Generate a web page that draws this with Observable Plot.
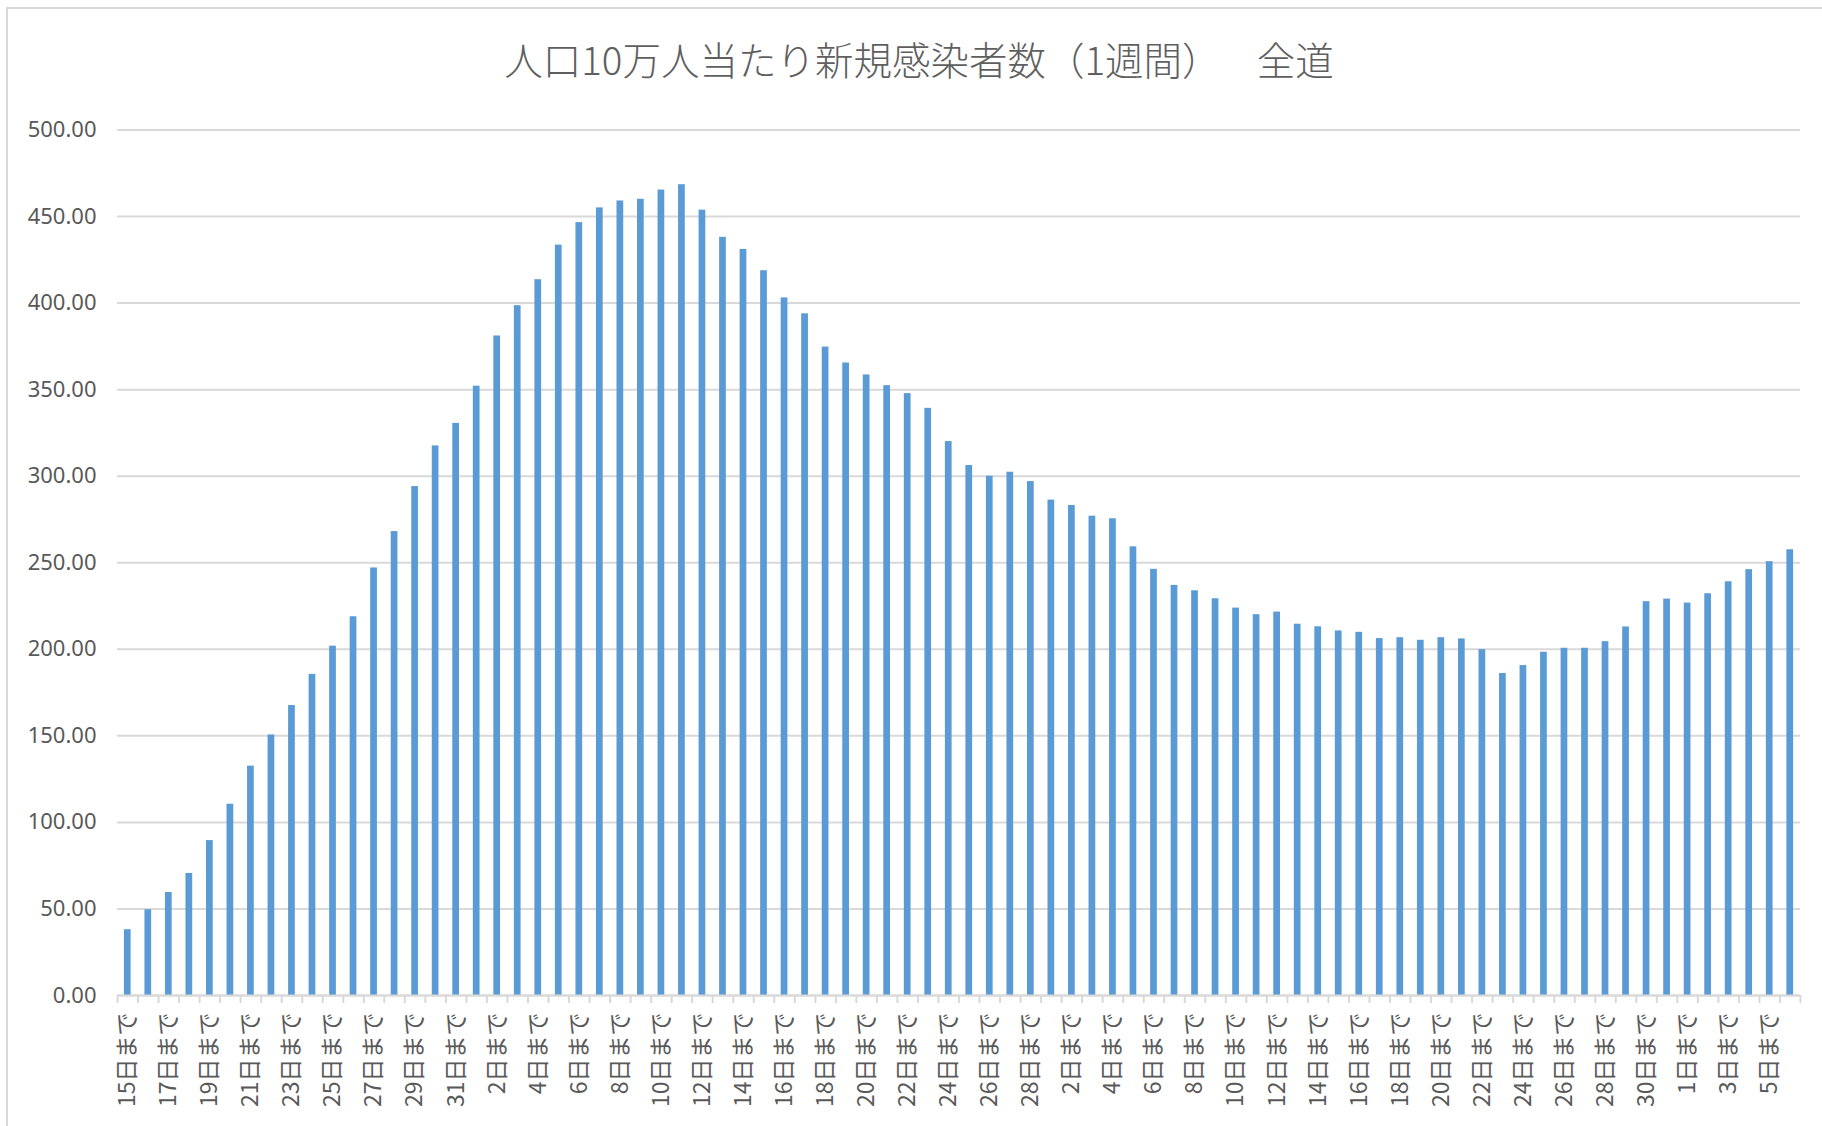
<!DOCTYPE html>
<html>
<head>
<meta charset="utf-8">
<script src="https://cdn.jsdelivr.net/npm/d3@7"></script>
<script src="https://cdn.jsdelivr.net/npm/@observablehq/plot@0.6"></script>
<style>
html, body { margin: 0; padding: 0; background: #ffffff; }
#frame { position: relative; width: 1822px; height: 1126px; overflow: hidden; background: #ffffff; }
#border { position: absolute; left: 6px; top: 7px; width: 1850px; height: 1150px; border: 2px solid #d9d9d9; box-sizing: border-box; }
#title { position: absolute; left: 0; top: 39px; width: 1838px; text-align: center; font-family: "Noto Sans CJK JP", "Noto Sans", sans-serif; font-size: 38.5px; font-weight: 300; line-height: 38px; color: #5f5f5f; white-space: pre; }
#chart { position: absolute; left: 0; top: 100px; }
</style>
</head>
<body>
<div id="frame">
  <div id="border"></div>
  <div id="title"></div>
  <div id="chart"></div>
</div>
<script>
const titleText = "人口10万人当たり新規感染者数（1週間）　  全道";

// categories: one bar per day (week ending on that date), 2022-01-15 .. 2022-04-06
const firstDay = new Date(Date.UTC(2022, 0, 15));
const endDay = new Date(Date.UTC(2022, 3, 7));
const dates = d3.utcDay.range(firstDay, endDay);

// weekly new cases per 100,000 population
const janValues = [38, 49.5, 59.5, 70.5, 89.5, 110.5, 132.5, 150.5, 167.5, 185.5, 201.8, 218.8, 247, 268, 294, 317.5, 330.5];
const febValues = [352, 381, 398.5, 413.5, 433.5, 446.5, 455, 459, 460, 465.3, 468.4, 453.7, 438, 431, 418.7, 403, 393.8, 374.6, 365.4, 358.5, 352.3, 347.7, 339.2, 320, 306.2, 300, 302.3, 296.9];
const marValues = [286.2, 283.1, 276.9, 275.4, 259.2, 246.2, 236.9, 233.8, 229.2, 223.8, 220, 221.5, 214.5, 213, 210.6, 209.8, 206.2, 206.7, 205.2, 206.7, 206, 199.8, 186, 190.6, 198.3, 200.6, 200.6, 204.4, 212.9, 227.5, 229];
const aprValues = [226.7, 232.1, 239, 246, 250.6, 257.5];
const values = [...janValues, ...febValues, ...marValues, ...aprValues];

const yTicks = [0, 50, 100, 150, 200, 250, 300, 350, 400, 450, 500];
const labelSuffix = "日まで";

const data = dates.map((d, i) => ({date: d, value: values[i]}));
const boundaries = d3.utcDay.range(firstDay, d3.utcDay.offset(endDay, 1));
const labelDates = dates.filter((d, i) => i % 2 === 0).map(d => d3.utcHour.offset(d, 12));

document.getElementById("title").textContent = titleText;

const chart = Plot.plot({
  width: 1822,
  height: 1026,
  marginLeft: 117,
  marginRight: 22,
  marginTop: 29.5,
  marginBottom: 131,
  style: {background: "transparent", fontFamily: "'Noto Sans CJK JP', 'Noto Sans', sans-serif", color: "#595959"},
  x: {type: "utc", domain: [firstDay, endDay]},
  y: {domain: [0, 500]},
  marks: [
    Plot.gridY(yTicks, {stroke: "#d9d9d9", strokeOpacity: 1, strokeWidth: 2}),
    Plot.axisY(yTicks, {tickSize: 0, tickPadding: 21, tickFormat: d3.format(".2f"), fontSize: 22, fill: "#595959", fontFamily: "'Noto Sans', sans-serif", label: null}),
    Plot.rectY(data, {x1: "date", x2: d => d3.utcDay.offset(d.date, 1), y: "value", fill: "#5b9bd5", insetLeft: 6.9, insetRight: 6.9}),
    Plot.ruleY([0], {stroke: "#d9d9d9", strokeWidth: 2}),
    Plot.axisX(boundaries, {tickSize: 8, tickFormat: () => "", stroke: "#d9d9d9", strokeWidth: 2, strokeOpacity: 1, label: null}),
    Plot.axisX(labelDates, {tickSize: 0, tickPadding: 17, tickRotate: -90, tickFormat: d => d.getUTCDate() + labelSuffix, fontSize: 23, fill: "#595959", fontFamily: "'Noto Sans CJK JP', sans-serif", label: null})
  ]
});
document.getElementById("chart").appendChild(chart);
</script>
</body>
</html>
